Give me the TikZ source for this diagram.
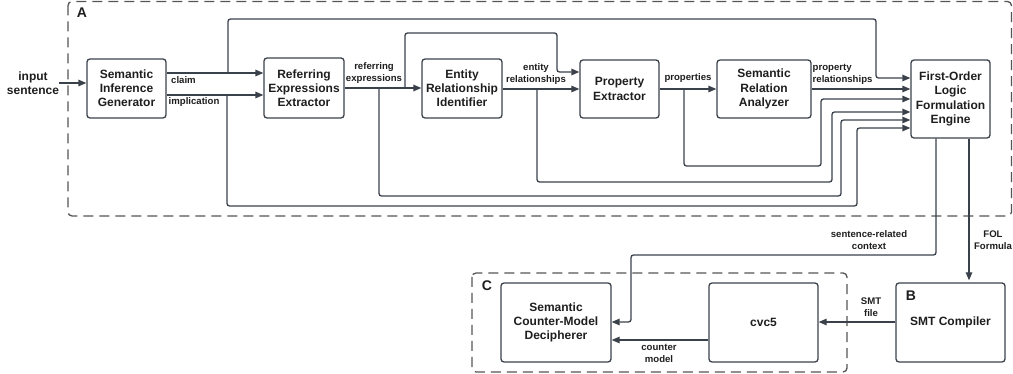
\documentclass[tikz,border=0pt]{standalone}
\usepackage{fontspec}
\setmainfont{Liberation Sans}
\usetikzlibrary{arrows.meta}
\definecolor{ln}{HTML}{3B414B}
\definecolor{dsh}{HTML}{555555}
\definecolor{tx}{HTML}{1E1E1E}
\begin{document}
\begin{tikzpicture}[x=1pt,y=-1pt,
  box/.style={draw=ln, line width=1.3pt, rounded corners=3pt, align=center,
    font=\fontsize{12}{14.2}\selectfont\bfseries, text=tx, inner sep=0pt},
  lbl/.style={align=center, font=\fontsize{9.6}{12}\selectfont\bfseries, text=tx, inner sep=0pt},
  tag/.style={font=\fontsize{14}{16}\selectfont\bfseries, text=tx, inner sep=0pt},
  arr/.style={draw=ln, line width=1.3pt, -{Triangle[length=8pt,width=6.5pt]}, rounded corners=2.5pt},
  grp/.style={draw=dsh, line width=1.3pt, dash pattern=on 10pt off 6pt, rounded corners=4pt}]
\useasboundingbox (0,0) rectangle (1013,374);

% groups
\draw[grp] (68,1.5) rectangle (1011.5,216);
\draw[grp] (472,273) rectangle (847,372);
\node[tag] (tA) at (82,13) {A};
\node[tag] (tC) at (487,286) {C};

% boxes
\node[box, minimum width=79pt, minimum height=59pt] (SIG) at (126.5,88.5) {Semantic\\Inference\\Generator};
\node[box, minimum width=80pt, minimum height=60pt] (REE) at (304,88) {Referring\\Expressions\\Extractor};
\node[box, minimum width=80pt, minimum height=59pt] (ERI) at (462,88.5) {Entity\\Relationship\\Identifier};
\node[box, minimum width=79pt, minimum height=58pt] (PE) at (619.5,89) {Property\\Extractor};
\node[box, minimum width=94pt, minimum height=58pt] (SRA) at (764,89) {Semantic\\Relation\\Analyzer};
\node[box, minimum width=79pt, minimum height=78pt] (FOL) at (950.5,99) {First-Order\\Logic\\Formulation\\Engine};
\node[box, minimum width=110pt, minimum height=79pt] (SCMD) at (556,322.5) {Semantic\\Counter-Model\\Decipherer};
\node[box, minimum width=109pt, minimum height=79pt] (CVC) at (763.5,322.5) {cvc5};
\node[box, minimum width=109pt, minimum height=79pt] (SMT) at (950.5,322.5) {SMT Compiler};
\node[tag] (tB) at (911,296) {B};

% input
\node[lbl, font=\fontsize{12}{14.2}\selectfont\bfseries] (inp) at (33,83) {input\\sentence};
\draw[arr] (inp.east) -- (SIG.west |- inp.east);

% SIG -> REE
\coordinate (cl) at (166,73);
\coordinate (im) at (166,95);
\draw[arr] (SIG.east |- cl) -- (REE.west |- cl);
\draw[arr] (SIG.east |- im) -- (REE.west |- im);
\node[lbl, anchor=west] (lcl) at (171,80) {claim};
\node[lbl, anchor=west] (lim) at (168.5,102) {implication};

% claim branch to FOL
\coordinate (bcl) at (228,73);
\draw[arr] (bcl) -- (228,19) -- (876,19) -- (876,78) -- (FOL.west |- 0,78);
% implication branch to FOL
\coordinate (bim) at (227,95);
\draw[arr] (bim) -- (227,206) -- (857,206) -- (857,128) -- (FOL.west |- 0,128);

% REE -> ERI
\draw[arr] (REE.east |- 0,88) -- (ERI.west |- 0,88);
\node[lbl] (lre) at (374,73) {referring\\expressions};
\coordinate (bre1) at (405,88);
\draw[arr] (bre1) -- (405,33) -- (557,33) -- (557,72) -- (PE.west |- 0,72);
\coordinate (bre2) at (379,88);
\draw[arr] (bre2) -- (379,196) -- (841,196) -- (841,120) -- (FOL.west |- 0,120);

% ERI -> PE
\draw[arr] (ERI.east |- 0,89) -- (PE.west |- 0,89);
\node[lbl] (ler) at (536,74) {entity\\relationships};
\coordinate (ber) at (537,89);
\draw[arr] (ber) -- (537,182) -- (832,182) -- (832,112) -- (FOL.west |- 0,112);

% PE -> SRA
\draw[arr] (PE.east |- 0,89) -- (SRA.west |- 0,89);
\node[lbl] (lpr) at (688,78) {properties};
\coordinate (bpr) at (684,89);
\draw[arr] (bpr) -- (684,166) -- (821,166) -- (821,99) -- (FOL.west |- 0,99);

% SRA -> FOL
\draw[arr] (SRA.east |- 0,89) -- (FOL.west |- 0,89);
\node[lbl, anchor=west, align=left] (lprr) at (812.5,74) {property\\relationships};

% FOL -> SMT
\draw[arr] (FOL.south -| 969,0) -- ([yshift=2pt]SMT.north -| 969,0);
\node[lbl] (lfol) at (993,240) {FOL\\Formula};

% FOL -> SCMD
\draw[arr] (FOL.south -| 936,0) -- (936,255) -- (631,255) -- (631,322) -- (SCMD.east |- 0,322);
\node[lbl] (lsrc) at (869,240) {sentence-related\\context};

% SMT -> cvc5
\draw[arr] (SMT.west |- 0,322) -- (CVC.east |- 0,322);
\node[lbl] (lsmt) at (871,307) {SMT\\file};

% cvc5 -> SCMD
\draw[arr] (CVC.west |- 0,340) -- (SCMD.east |- 0,340);
\node[lbl] (lcm) at (659,353) {counter\\model};
\end{tikzpicture}
\end{document}
